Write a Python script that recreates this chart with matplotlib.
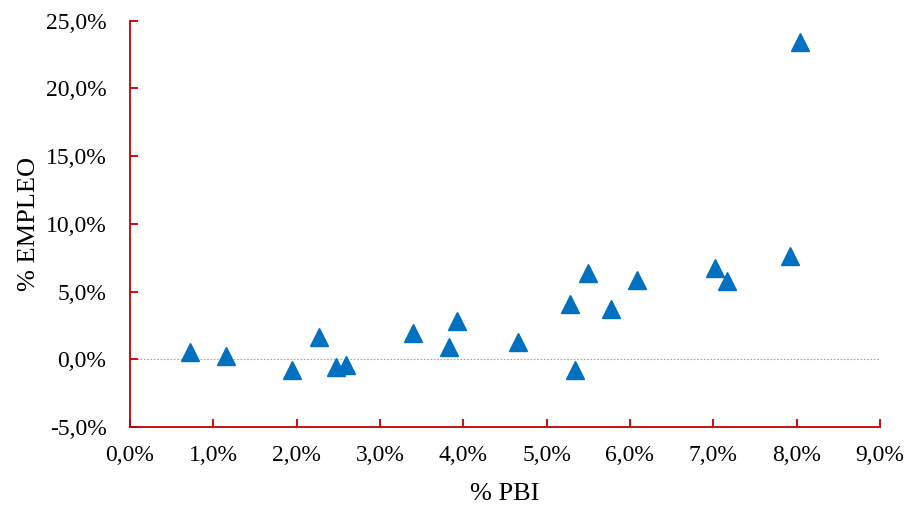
import matplotlib
matplotlib.use("Agg")
import matplotlib.pyplot as plt
from matplotlib import ticker

# % PBI (x) vs % EMPLEO (y)
pbi = [0.72, 1.15, 1.94, 2.27, 2.47, 2.59, 3.40, 3.83, 3.93, 4.66,
       5.28, 5.34, 5.50, 5.77, 6.09, 7.02, 7.17, 7.92, 8.04]
empleo = [0.52, 0.22, -0.81, 1.62, -0.59, -0.44, 1.92, 0.88, 2.80, 1.25,
          4.06, -0.81, 6.34, 3.69, 5.83, 6.71, 5.75, 7.60, 23.4]

plt.rcParams['font.family'] = ['Liberation Serif', 'DejaVu Serif']

fig = plt.figure(figsize=(9.09, 5.07), dpi=100)
ax = fig.add_axes([0.143, 0.158, 0.825, 0.801])

ax.axhline(0, color='#a6a6a6', linestyle=(0, (1.5, 1.5)), linewidth=0.8, zorder=1)
ax.plot(pbi, empleo, linestyle='none', marker='^', markersize=13,
        color='#0070c0', zorder=3)

ax.set_xlim(0, 9)
ax.set_ylim(-5, 25)
ax.xaxis.set_major_locator(ticker.MultipleLocator(1))
ax.yaxis.set_major_locator(ticker.MultipleLocator(5))
fmt = ticker.FuncFormatter(lambda v, p: ('%.1f%%' % v).replace('.', ','))
ax.xaxis.set_major_formatter(fmt)
ax.yaxis.set_major_formatter(fmt)

red = '#c00000'
for side in ['top', 'right']:
    ax.spines[side].set_visible(False)
for side in ['left', 'bottom']:
    ax.spines[side].set_color(red)
    ax.spines[side].set_linewidth(1.3)
ax.tick_params(direction='in', length=6, width=1.3, color=red,
               labelsize=17, labelcolor='black')
ax.tick_params(axis='x', pad=13)
ax.tick_params(axis='y', pad=17)

ax.set_xlabel('% PBI', fontsize=19, labelpad=12)
ax.set_ylabel('% EMPLEO', fontsize=19, labelpad=4)

fig.savefig('out.png', dpi=100)
